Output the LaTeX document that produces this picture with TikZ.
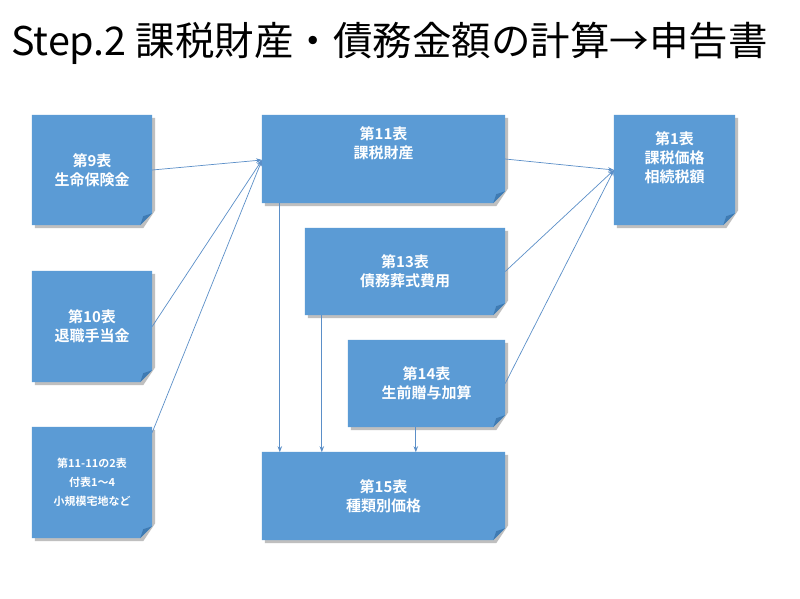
\documentclass[tikz,border=0pt]{standalone}
\usepackage{fontspec}
\setmainfont{Noto Sans CJK JP}
\newfontfamily\jpb{Noto Sans CJK JP Bold}
\usetikzlibrary{backgrounds,arrows.meta}
\definecolor{boxblue}{HTML}{5B9BD5}
\definecolor{folddark}{HTML}{3F7BB3}
\definecolor{linkblue}{HTML}{5B8FC8}
\tikzset{
 card/.style={inner sep=0pt,text=white,font=\jpb\fontsize{15}{19}\selectfont,align=center},
 link/.style={draw=linkblue,line width=0.7pt,-{Stealth[length=6pt,width=4.5pt]}}
}
\newcommand\mkcard[6]{%
 \node[card,minimum width=#4-#2,minimum height=#5-#3] (#1) at ({(#2+#4)/2},{(#3+#5)/2}) {#6};
 \begin{scope}[on background layer]
 \fill[black!25] ([shift={(3pt,-3pt)}]#1.north west) -- ([shift={(3pt,-3pt)}]#1.north east) -- ([shift={(3pt,15pt)}]#1.south east) -- ([shift={(-9pt,-3pt)}]#1.south east) -- ([shift={(3pt,-3pt)}]#1.south west) -- cycle;
 \fill[boxblue] (#1.north west) -- (#1.north east) -- ([yshift=12pt]#1.south east) -- ([xshift=-12pt]#1.south east) -- (#1.south west) -- cycle;
 \fill[folddark] ([yshift=12pt]#1.south east) -- ([xshift=-12pt]#1.south east) -- ([shift={(-9pt,9pt)}]#1.south east) -- cycle;
 \end{scope}}
\begin{document}
\begin{tikzpicture}[x=1pt,y=-1pt]
\begin{scope}[on background layer]
\fill[white] (0,0) rectangle (800,599);
\end{scope}
\useasboundingbox (0,0) rectangle (800,599);
\node[font=\fontsize{39.5}{44}\selectfont,anchor=west,inner sep=0pt] (title) at (11,43) {Step.2 課税財産・債務金額の計算→申告書};
\mkcard{t9}{32}{115}{152}{225}{第9表\\生命保険金}
\mkcard{t10}{32}{271}{152}{382}{第10表\\退職手当金}
\mkcard{t1111}{32}{427}{152}{538}{\fontsize{11}{16}\selectfont 第11-11の2表\\\fontsize{11}{16}\selectfont 付表1～4\\\fontsize{11}{16}\selectfont 小規模宅地など}
\mkcard{t11}{262}{115}{505}{203}{第11表\\課税財産\\[14pt]}
\mkcard{t1}{614}{115}{735}{225}{第1表\\課税価格\\相続税額\\[6pt]}
\mkcard{t13}{305}{228}{505}{315}{第13表\\債務葬式費用}
\mkcard{t14}{348}{340}{505}{427}{第14表\\生前贈与加算}
\mkcard{t15}{262}{452}{505}{540}{第15表\\種類別価格}
\coordinate (in11) at (262,160);
\coordinate (in1) at (614,170);
\draw[link] (t9.east) -- (in11);
\draw[link] (t10.east) -- (in11);
\draw[link] (t1111.east) ++(0,-50) -- (in11);
\draw[link] (t11.east) -- (in1);
\draw[link] (t13.east) -- (in1);
\draw[link] (t14.east) -- (in1);
\draw[link] (t11.south west) ++(18,0) -- ++(0,249);
\draw[link] (t13.south west) ++(17,0) -- ++(0,137);
\draw[link] (t14.south west) ++(68,0) -- ++(0,25);
\end{tikzpicture}
\end{document}
